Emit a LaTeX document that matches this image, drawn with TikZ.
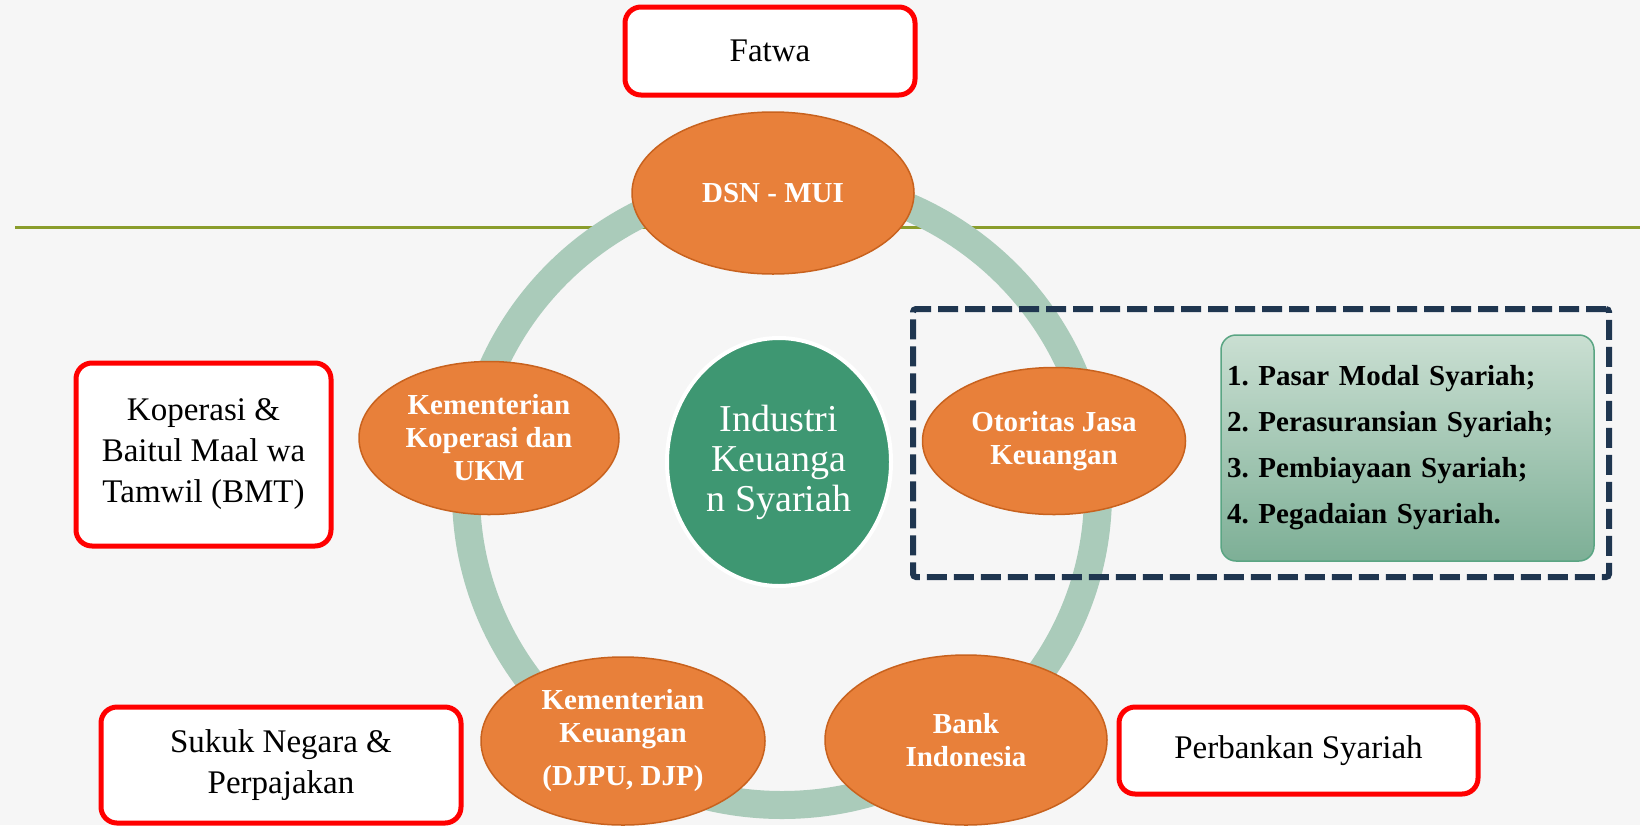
\documentclass[tikz,border=0pt]{standalone}
\usepackage{fontspec}
\setmainfont{Liberation Serif}
\usetikzlibrary{shapes.geometric}
\definecolor{bgc}{HTML}{F6F6F6}
\definecolor{ringc}{HTML}{AACBBA}
\definecolor{orangec}{HTML}{E8803A}
\definecolor{orangeb}{HTML}{C8621E}
\definecolor{centerc}{HTML}{3E9772}
\definecolor{navyc}{HTML}{1F3650}
\definecolor{lineg}{HTML}{8A9D2C}
\definecolor{listtop}{HTML}{CADFD2}
\definecolor{listbot}{HTML}{7DAF96}
\definecolor{listb}{HTML}{5AA583}
\newcommand\myfs[2]{\fontsize{#1}{#2}\selectfont}
\frenchspacing
\begin{document}
\begin{tikzpicture}[x=1pt,y=-1pt,
  redbox/.style={draw=red, line width=5pt, rounded corners=16pt, fill=white,
    align=center, inner sep=0pt, font=\myfs{33}{41}},
  orangeell/.style={ellipse, draw=orangeb, line width=1.5pt, fill=orangec,
    text=white, align=center, inner sep=0pt, font=\bfseries\myfs{29}{33}},
  centerell/.style={ellipse, draw=white, line width=4pt, fill=centerc,
    text=white, align=center, inner sep=0pt, font=\myfs{38}{40}},
  ringstyle/.style={draw=ringc, line width=28pt},
  dashbox/.style={draw=navyc, line width=6pt, dash pattern=on 20pt off 7pt,
    rounded corners=3pt, inner sep=0pt},
  listbox/.style={draw=listb, line width=1.5pt, rounded corners=15pt,
    top color=listtop, bottom color=listbot, align=left, inner xsep=6pt,
    inner ysep=0pt, font=\bfseries\frenchspacing\myfs{29}{46}},
  hline/.style={draw=lineg, line width=3pt}
]
\useasboundingbox (0,0) rectangle (1640,825);
\fill[bgc] (0,0) rectangle (1640,825);

% horizontal rule
\coordinate (lineL) at (15,227);
\coordinate (lineR) at (1640,227);
\draw[hline] (lineL) -- (lineR);

% ring
\coordinate (ringC) at (782,493);
\draw[ringstyle] (ringC) ellipse [x radius=316pt, y radius=312pt];

% orange ellipses
\node[orangeell, minimum width=282pt, minimum height=162pt] (dsn) at (773,193) {DSN - MUI};
\node[orangeell, minimum width=260pt, minimum height=153pt] (kop) at (489,438) {Kementerian\\Koperasi dan\\UKM};
\node[orangeell, minimum width=263pt, minimum height=147pt] (ojk) at (1054,441) {Otoritas Jasa\\Keuangan};
\node[orangeell, minimum width=282pt, minimum height=170pt] (bi) at (966,740) {Bank\\Indonesia};
\node[orangeell, minimum width=284pt, minimum height=168pt] (kemenkeu) at (623,741) {Kementerian\\Keuangan\\[10pt](DJPU, DJP)};

% center
\node[centerell, minimum width=224pt, minimum height=248pt] (center) at (779,462) {Industri\\Keuanga\\n Syariah};

% dashed group and list
\node[dashbox, minimum width=696pt, minimum height=268pt] (ojkgroup) at (1261,443) {};
\node[listbox, minimum width=373pt, minimum height=226pt, text width=361pt] (list) at (1407.5,448)
  {1. Pasar Modal Syariah;\\2. Perasuransian Syariah;\\3. Pembiayaan Syariah;\\4. Pegadaian Syariah.};

% red boxes
\node[redbox, minimum width=290pt, minimum height=88pt] (fatwa) at (770,51) {Fatwa};
\node[redbox, minimum width=255pt, minimum height=183pt] (bmt) at (203.5,454.5) {Koperasi \&\\Baitul Maal wa\\Tamwil (BMT)};
\node[redbox, minimum width=360pt, minimum height=116pt] (sukuk) at (281,765) {Sukuk Negara \&\\Perpajakan};
\node[redbox, minimum width=359pt, minimum height=87pt] (perbankan) at (1298.5,750.5) {Perbankan Syariah};
\end{tikzpicture}
\end{document}
